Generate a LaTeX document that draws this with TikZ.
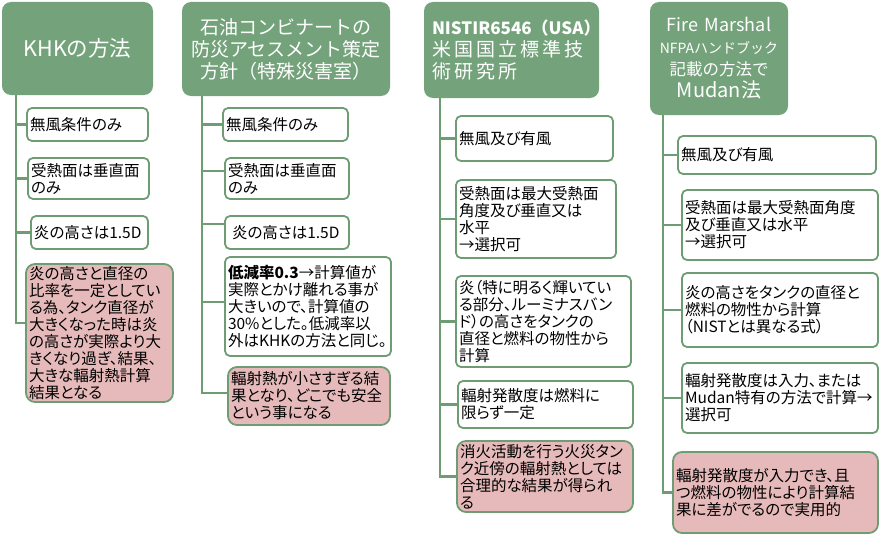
\documentclass[tikz,border=0pt]{standalone}
\usepackage{fontspec}
\setmainfont{Noto Sans CJK JP}
\newfontfamily\itemfont{Noto Sans CJK JP}[CharacterWidth=AlternateProportional]
\usepackage{xcolor}
\usepackage{tikz}
\usetikzlibrary{positioning,calc}

\definecolor{headgreen}{RGB}{116,163,123}
\definecolor{linegreen}{RGB}{110,156,115}
\definecolor{notepink}{RGB}{230,186,186}

\begin{document}
\begin{tikzpicture}[x=1pt,y=-1pt,
    head/.style={fill=headgreen, rounded corners=9pt, text=white, align=center, inner xsep=2pt, font=\fontsize{19}{22}\selectfont},
    item/.style={draw=linegreen, line width=1.8pt, fill=white, rounded corners=5pt, align=left, inner xsep=3pt, inner ysep=1pt, font=\itemfont\fontsize{15.5}{17}\selectfont},
    note/.style={item, fill=notepink, rounded corners=9pt},
    trunk/.style={linegreen, line width=2.4pt}]
    \useasboundingbox (0,0) rectangle (881,535);

    % KHK
    \node[head, text width=147pt, minimum height=93pt, font=\fontsize{21.5}{24}\selectfont] (h1) at (77.5,48.5) {KHKの方法};
    \node[item, text width=115pt, minimum height=33pt] (a1) at (87.5,124.5) {無風条件のみ};
    \node[item, text width=115pt, minimum height=41pt] (a2) at (88.5,178.5) {受熱面は垂直面\\のみ};
    \node[item, text width=111pt, minimum height=33pt] (a3) at (89.5,232.5) {炎の高さは1.5D};
    \node[note, text width=141pt, minimum height=138pt] (a4) at (99.5,333) {炎の高さと直径の\\比率を一定としてい\\る為、タンク直径が\\大きくなった時は炎\\の高さが実際より大\\きくなり過ぎ、結果、\\大きな輻射熱計算\\結果となる};

    % Sekiyu kombinato
    \node[head, text width=204pt, minimum height=94pt] (h2) at (286,49) {石油コンビナートの\\防災アセスメント策定\\方針（特殊災害室）};
    \node[item, text width=119pt, minimum height=33pt] (b1) at (285.5,124.5) {無風条件のみ};
    \node[item, text width=118pt, minimum height=41pt] (b2) at (287,178.5) {受熱面は垂直面\\のみ};
    \node[item, text width=118pt, minimum height=33pt] (b3) at (287,232.5) {\hspace{4pt}炎の高さは1.5D};
    \node[item, text width=160pt, minimum height=99pt] (b4) at (308,306.5) {\textbf{低減率0.3}→計算値が\\実際とかけ離れる事が\\大きいので、計算値の\\30\%とした。低減率以\\外はKHKの方法と同じ。};
    \node[note, text width=156pt, minimum height=58pt] (b5) at (309,396) {輻射熱が小さすぎる結\\果となり、どこでも安全\\という事になる};

    % NIST
    \node[head, text width=159pt, minimum height=96pt, inner xsep=8pt, align=left] (h3) at (511.5,50) {{\fontsize{17}{22}\selectfont\bfseries NISTIR6546（USA）}\\{\addfontfeatures{LetterSpace=16}米国国立標準技}\\{\addfontfeatures{LetterSpace=16}術研究所}};
    \node[item, text width=151pt, minimum height=45pt] (c1) at (534.5,138.5) {無風及び有風};
    \node[item, text width=154pt, minimum height=78pt] (c2) at (536,219) {受熱面は最大受熱面\\角度及び垂直又は\\水平\\→選択可};
    \node[item, text width=169pt, minimum height=91pt] (c3) at (543.5,321.5) {炎（特に明るく輝いてい\\る部分、ルーミナスバン\\ド）の高さをタンクの\\直径と燃料の物性から\\計算};
    \node[item, text width=169pt, minimum height=47pt] (c4) at (545.5,404.5) {輻射発散度は燃料に\\限らず一定};
    \node[note, text width=170pt, minimum height=71pt] (c5) at (545,476.5) {消火活動を行う火災タン\\ク近傍の輻射熱としては\\合理的な結果が得られ\\る};

    % Fire Marshal
    \node[head, text width=134pt, minimum height=113pt] (h4) at (719,58.5) {{\fontsize{18}{20}\selectfont Fire Marshal}\\{\fontsize{14}{17}\selectfont NFPAハンドブック}\\{\fontsize{16.5}{18}\selectfont 記載の方法で}\\{\fontsize{20}{22}\selectfont Mudan法}};
    \node[item, text width=192pt, minimum height=38pt] (d1) at (777,155) {無風及び有風};
    \node[item, text width=190pt, minimum height=70pt] (d2) at (780,225) {受熱面は最大受熱面角度\\及び垂直又は水平\\→選択可};
    \node[item, text width=190pt, minimum height=74pt] (d3) at (780,310) {炎の高さをタンクの直径と\\燃料の物性から計算\\（NISTとは異なる式）};
    \node[item, text width=190pt, minimum height=70pt] (d4) at (780,398) {輻射発散度は入力、または\\Mudan特有の方法で計算→\\選択可};
    \node[note, text width=199pt, minimum height=81pt] (d5) at (775.5,492.5) {輻射発散度が入力でき、且\\つ燃料の物性により計算結\\果に差がでるので実用的};

    % Connections
    \coordinate (t1) at (16,95);
    \coordinate (t2) at (202,96);
    \coordinate (t3) at (440,98);
    \coordinate (t4) at (663,115);

    \draw[trunk] (t1) |- ([yshift=10pt]a4.west);
    \draw[trunk] (t1 |- a1.west) -- (a1.west);
    \draw[trunk] (t1 |- a2.west) -- (a2.west);
    \draw[trunk] (t1 |- a3.west) -- (a3.west);

    \draw[trunk] (t2) |- ([yshift=3pt]b5.west);
    \draw[trunk] (t2 |- b1.west) -- (b1.west);
    \draw[trunk] ([yshift=7.5pt]b2.west -| t2) -- ([yshift=7.5pt]b2.west);
    \draw[trunk] ([yshift=8.5pt]b3.west -| t2) -- ([yshift=8.5pt]b3.west);
    \draw[trunk] ([yshift=4.5pt]b4.west -| t2) -- ([yshift=4.5pt]b4.west);

    \draw[trunk] (t3) |- (c5.west);
    \draw[trunk] (t3 |- c1.west) -- (c1.west);
    \draw[trunk] (t3 |- c2.west) -- (c2.west);
    \draw[trunk] (t3 |- c3.west) -- (c3.west);
    \draw[trunk] (t3 |- c4.west) -- (c4.west);

    \draw[trunk] (t4) |- (d5.west);
    \draw[trunk] (t4 |- d1.west) -- (d1.west);
    \draw[trunk] (t4 |- d2.west) -- (d2.west);
    \draw[trunk] (t4 |- d3.west) -- (d3.west);
    \draw[trunk] (t4 |- d4.west) -- (d4.west);
\end{tikzpicture}
\end{document}
